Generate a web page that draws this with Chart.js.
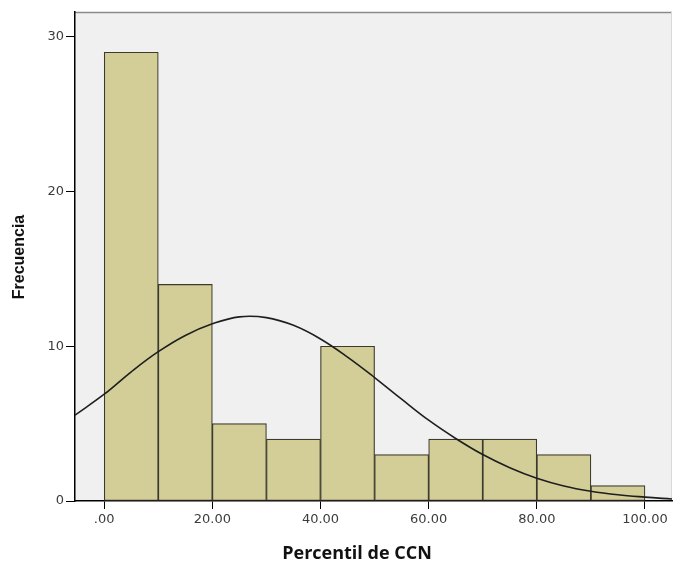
<!DOCTYPE html>
<html>
<head>
<meta charset="utf-8">
<style>
  html, body { margin: 0; padding: 0; background: #ffffff; }
  #wrap { width: 673px; height: 567px; }
</style>
<script src="https://cdn.jsdelivr.net/npm/chart.js@4.4.1/dist/chart.umd.min.js"></script>
</head>
<body>
<div id="wrap"><canvas id="hist" width="673" height="567"></canvas></div>
<script>
// Histogram bins (lower edges, width 10) and frequencies
const binStarts = [0, 10, 20, 30, 40, 50, 60, 70, 80, 90];
const binWidth = 10;
const counts = [29, 14, 5, 4, 10, 3, 4, 4, 3, 1];

// Fitted normal curve, sampled along the x axis
const curveX = [-5.4, 0, 5, 10, 15, 20, 25, 30, 35, 40, 45, 50, 55, 60, 65, 70, 75, 80, 85, 90, 95, 100, 105];
const curveY = [5.55, 6.9, 8.35, 9.65, 10.7, 11.45, 11.9, 11.85, 11.35, 10.47, 9.3, 7.98, 6.58, 5.22, 4.04, 3.0, 2.15, 1.47, 0.97, 0.63, 0.4, 0.25, 0.13];

// Axis ticks
const xTickValues = [0, 20, 40, 60, 80, 100];
const xTickLabels = ['.00', '20.00', '40.00', '60.00', '80.00', '100.00'];
const yTickValues = [0, 10, 20, 30];

const xTitle = 'Percentil de CCN';
const yTitle = 'Frecuencia';

const barData = binStarts.map((s, i) => ({ x: s + binWidth / 2, y: counts[i] }));
const curveData = curveX.map((x, i) => ({ x: x, y: curveY[i] }));

// Grey plot panel with a thin frame on top and right
const plotBackground = {
  id: 'plotBackground',
  beforeDraw(chart) {
    const { ctx, chartArea: a } = chart;
    ctx.save();
    ctx.fillStyle = '#f0f0f0';
    ctx.fillRect(a.left, a.top, a.right - a.left, a.bottom - a.top);
    ctx.strokeStyle = '#8a8a8a';
    ctx.lineWidth = 1.5;
    ctx.beginPath();
    ctx.moveTo(a.left, a.top + 0.5);
    ctx.lineTo(a.right, a.top + 0.5);
    ctx.stroke();
    ctx.strokeStyle = '#d8d8d8';
    ctx.lineWidth = 1;
    ctx.beginPath();
    ctx.moveTo(a.right - 0.5, a.top);
    ctx.lineTo(a.right - 0.5, a.bottom);
    ctx.stroke();
    ctx.restore();
  }
};

// Axis titles
const axisTitles = {
  id: 'axisTitles',
  afterDraw(chart) {
    const { ctx } = chart;
    ctx.save();
    ctx.fillStyle = '#111111';
    ctx.textAlign = 'center';
    ctx.textBaseline = 'middle';
    ctx.font = 'bold 18px "Open Sans", Lato, sans-serif';
    ctx.fillText(xTitle, 357, 554);
    ctx.translate(20, 257);
    ctx.rotate(-Math.PI / 2);
    ctx.font = 'bold 16px "Liberation Sans", Arial, sans-serif';
    ctx.fillText(yTitle, 0, 0);
    ctx.restore();
  }
};

const tickFont = { family: '"DejaVu Sans", Verdana, sans-serif', size: 13 };

new Chart(document.getElementById('hist'), {
  data: {
    datasets: [
      {
        type: 'line',
        data: curveData,
        borderColor: '#1e1e1e',
        borderWidth: 1.6,
        pointRadius: 0,
        tension: 0.4,
        fill: false,
        order: 1
      },
      {
        type: 'bar',
        data: barData,
        backgroundColor: '#d3ce98',
        borderColor: '#3c3a2c',
        borderWidth: 1.2,
        borderSkipped: false,
        barPercentage: 1,
        categoryPercentage: 1,
        order: 2
      }
    ]
  },
  options: {
    responsive: false,
    animation: false,
    events: [],
    layout: { padding: { top: 12, right: 1, left: 0, bottom: 0 } },
    plugins: { legend: { display: false }, tooltip: { enabled: false } },
    scales: {
      x: {
        type: 'linear',
        min: -5.4,
        max: 105,
        offset: false,
        afterFit(scale) { scale.height = 66; },
        afterBuildTicks(scale) { scale.ticks = xTickValues.map(v => ({ value: v })); },
        grid: { display: true, offset: false, drawOnChartArea: false, drawTicks: true, tickLength: 8, color: '#000000', lineWidth: 1 },
        border: { display: true, color: '#000000', width: 1.5 },
        ticks: {
          color: '#3c3c3c',
          font: tickFont,
          padding: 3,
          maxRotation: 0,
          autoSkip: false,
          callback: (v) => { const i = xTickValues.indexOf(v); return i >= 0 ? xTickLabels[i] : ''; }
        },
        title: { display: false }
      },
      y: {
        type: 'linear',
        min: 0,
        max: 31.6,
        afterFit(scale) { scale.width = 75; },
        afterBuildTicks(scale) { scale.ticks = yTickValues.map(v => ({ value: v })); },
        grid: { display: true, drawOnChartArea: false, drawTicks: true, tickLength: 9, color: '#000000', lineWidth: 1 },
        border: { display: true, color: '#000000', width: 1.5 },
        ticks: {
          color: '#3c3c3c',
          font: tickFont,
          padding: 2,
          autoSkip: false
        },
        title: { display: false }
      }
    }
  },
  plugins: [plotBackground, axisTitles]
});
</script>
</body>
</html>
